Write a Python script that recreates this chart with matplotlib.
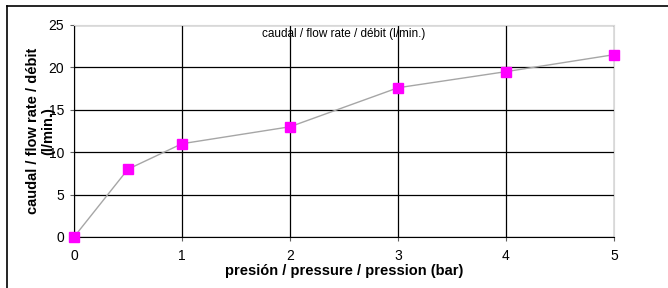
import matplotlib.pyplot as plt
from matplotlib.lines import Line2D

plt.rcParams['font.family'] = ['Liberation Sans', 'DejaVu Sans']

# Данные: давление (bar) и расход (l/min.)
presion = [0, 0.5, 1, 2, 3, 4, 5]
caudal = [0, 8, 11, 13, 17.6, 19.5, 21.5]
xticks = [0, 1, 2, 3, 4, 5]
yticks = [0, 5, 10, 15, 20, 25]

fig = plt.figure(figsize=(6.68, 2.88), dpi=100)
ax = fig.add_axes([74 / 668, 1 - 237 / 288, 540 / 668, 212 / 288])

# рамка рисунка (видны только левая и верхняя стороны)
fig.add_artist(Line2D([7 / 668, 7 / 668], [0, 1 - 6 / 288], color='black', lw=1.2, transform=fig.transFigure))
fig.add_artist(Line2D([7 / 668, 1], [1 - 6 / 288, 1 - 6 / 288], color='black', lw=1.2, transform=fig.transFigure))

ax.set_xlim(0, 5)
ax.set_ylim(0, 25)
ax.set_xticks(xticks)
ax.set_yticks(yticks)
ax.grid(True, color='black', lw=0.9)
ax.set_axisbelow(True)

for s in ['top', 'right']:
    ax.spines[s].set_color('#d8d8d8')
ax.spines['left'].set_color('black')
ax.spines['bottom'].set_color('black')

ax.plot(presion, caudal, color='#a6a6a6', lw=1.0, marker='s', markersize=6.5,
        markerfacecolor='#ff00ff', markeredgecolor='#ff00ff', clip_on=False, zorder=3)

ax.tick_params(axis='x', labelsize=10, length=3, width=0.8, color='#606060', pad=6)
ax.tick_params(axis='y', labelsize=10, length=3, width=0.8, color='#606060', pad=4)
ax.set_xlabel('presión / pressure / pression (bar)', fontsize=10.5, fontweight='bold', labelpad=0)
# подпись оси Y в оригинале наезжает на метки — так и оставляем
ax.set_ylabel('caudal / flow rate / débit\n(l/min.)', fontsize=10.5, fontweight='bold',
              linespacing=1.15, labelpad=-5)
ax.text(0.5, 0.985, 'caudal / flow rate / débit (l/min.)', transform=ax.transAxes,
        ha='center', va='top', fontsize=8.5)

fig.savefig('out.png', dpi=100)
